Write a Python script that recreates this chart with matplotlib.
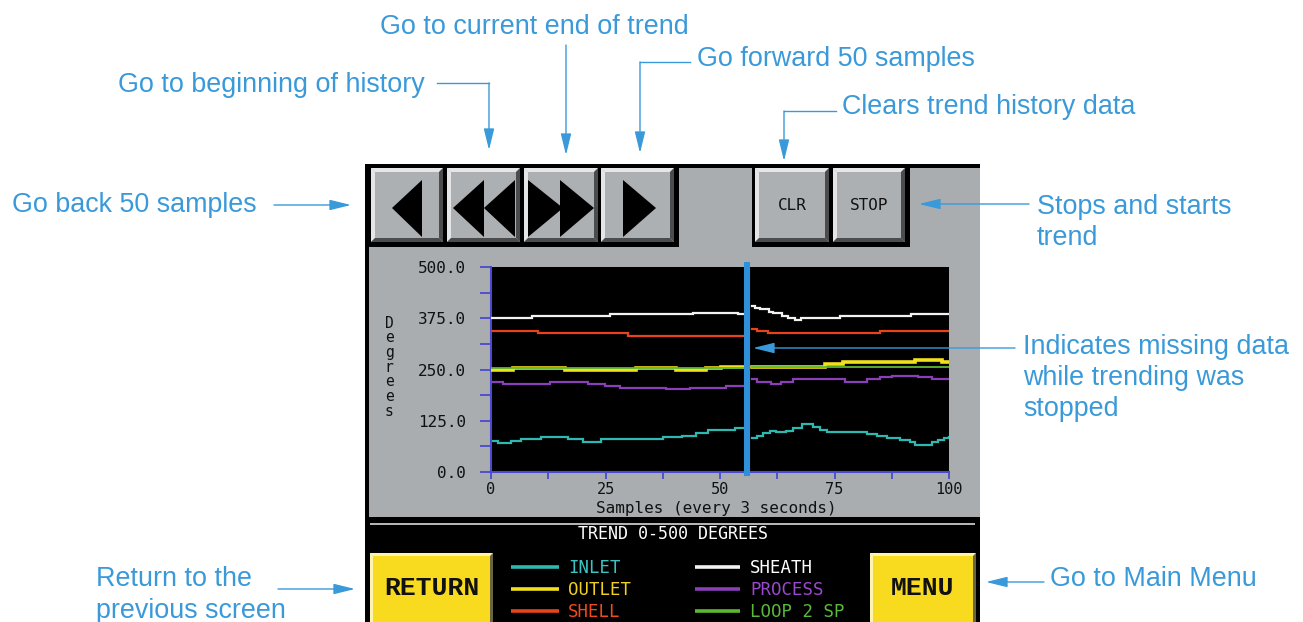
import matplotlib
matplotlib.use("Agg")
import matplotlib.pyplot as plt
from matplotlib.patches import Rectangle, Polygon, FancyArrowPatch
from matplotlib.ticker import MultipleLocator

W, H = 1303, 622

# ---------------- data ----------------
SERIES_NAMES = ["INLET", "OUTLET", "SHELL", "SHEATH", "PROCESS", "LOOP 2 SP"]
LINE_COLORS = ["#2fb8b0", "#f2e01c", "#e8431c", "#f2f2f2", "#8a3eb8", "#5cb830"]
LEGEND_TEXT_COLORS = ["#3cc4c4", "#f0d020", "#f04a1e", "#ffffff", "#9a48cc", "#5ab83a"]

# None marks the gap while trending was stopped
inlet_x = [0, 1.5, 4.4, 6.6, 10.9, 16.8, 20.1, 24.1, 37.6, 41.6, 44.8, 47.4, 53.2, 55.5, None,
           57, 58, 59.4, 60.9, 62.3, 64.5, 65.9, 67.8, 70.3, 71.8, 73.3, 80.6, 82, 84.2, 86.4,
           89.3, 91.5, 92.6, 94.8, 96.2, 97.7, 98.8, 100]
inlet_y = [76, 70, 76, 80, 85, 80, 74, 80, 85, 89, 94, 102, 108, 108, None,
           82, 88, 94, 101, 98, 101, 107, 117, 110, 102, 98, 98, 93, 88, 82,
           78, 72, 66, 66, 72, 78, 82, 86]

outlet_x = [0, 4.8, 16.1, 31.7, 40.5, 47, 50.3, 55.5, None,
            57, 60.1, 72.9, 76.9, 92.5, 98.4, 100]
outlet_y = [249, 253, 249, 253, 249, 253, 256, 256, None,
            255, 257, 263, 268, 273, 268, 268]

shell_x = [0, 10.2, 29.9, 55.5, None, 57, 58, 60.5, 84.9, 100]
shell_y = [343, 338, 332.5, 332.5, None, 348, 344, 340, 343, 343]

sheath_x = [0, 9, 26, 44, 54, 55.5, None,
            57, 57.7, 58.8, 60.6, 61.6, 63.5, 64.9, 66.3, 67.6, 76.2, 91.8, 100]
sheath_y = [375, 380, 385, 389, 385, 385, None,
            406, 401, 397, 391, 387, 381, 375, 370, 375, 381, 385, 385]

process_x = [0, 2.6, 12.8, 21.2, 24.8, 28.1, 38.3, 43.4, 51.4, 55.5, None,
             57, 58, 61.2, 63.4, 65.9, 77.2, 82, 84.9, 87.5, 93.3, 96.2, 100]
process_y = [220, 215, 220, 215, 210, 206, 202, 206, 210, 210, None,
             226, 220, 215, 220, 226, 220, 226, 231, 235, 231, 226, 226]

loop2sp_x = [0, 55.5, None, 57, 100]
loop2sp_y = [253, 253, None, 257, 257]

SERIES_X = [inlet_x, outlet_x, shell_x, sheath_x, process_x, loop2sp_x]
SERIES_Y = [inlet_y, outlet_y, shell_y, sheath_y, process_y, loop2sp_y]

Y_TICKS = [0, 125, 250, 375, 500]
Y_TICK_LABELS = ["0.0", "125.0", "250.0", "375.0", "500.0"]
X_TICKS = [0, 25, 50, 75, 100]
X_TICK_LABELS = ["0", "25", "50", "75", "100"]
GAP_SAMPLE = 56.0

X_LABEL = "Samples (every 3 seconds)"
Y_LABEL = "Degrees"
PANEL_TITLE = "TREND 0-500 DEGREES"

BLUE = "#3a9ad9"
MONO = "DejaVu Sans Mono"
SANS = "Liberation Sans"


def segments(xs, ys):
    segs, cx, cy = [], [], []
    for x, y in zip(xs, ys):
        if x is None:
            segs.append((cx, cy))
            cx, cy = [], []
        else:
            cx.append(x)
            cy.append(y)
    segs.append((cx, cy))
    return segs


fig = plt.figure(figsize=(W / 100, H / 100), dpi=100, facecolor="white")

# ---------------- background (HMI screen) ----------------
bg = fig.add_axes([0, 0, 1, 1], zorder=0)
bg.set_xlim(0, W)
bg.set_ylim(H, 0)
bg.axis("off")

PANEL_GRAY = "#a9adb0"
BTN_FACE = "#adb0b3"
BTN_LIGHT = "#e4e6e7"
BTN_DARK = "#4a4c4e"


def bevel(ax, x0, y0, x1, y1, face, light, dark, b=4):
    ax.add_patch(Rectangle((x0, y0), x1 - x0, y1 - y0, fc=face, ec="none"))
    ax.add_patch(Polygon([(x0, y0), (x1, y0), (x1 - b, y0 + b), (x0 + b, y0 + b)], fc=light, ec="none"))
    ax.add_patch(Polygon([(x0, y0), (x0 + b, y0 + b), (x0 + b, y1 - b), (x0, y1)], fc=light, ec="none"))
    ax.add_patch(Polygon([(x0, y1), (x0 + b, y1 - b), (x1 - b, y1 - b), (x1, y1)], fc=dark, ec="none"))
    ax.add_patch(Polygon([(x1, y0), (x1, y1), (x1 - b, y1 - b), (x1 - b, y0 + b)], fc=dark, ec="none"))


bg.add_patch(Rectangle((365, 164), 980 - 365, H - 164, fc="black", ec="none"))
bg.add_patch(Rectangle((369, 168), 980 - 369, 517 - 168, fc=PANEL_GRAY, ec="none"))
bg.add_patch(Rectangle((369, 165), 679 - 369, 247 - 165, fc="black", ec="none"))
bg.add_patch(Rectangle((752, 165), 910 - 752, 247 - 165, fc="black", ec="none"))

buttons = [(371, 443), (447, 520), (524, 598), (601, 674), (755, 829), (833, 905)]
for bx0, bx1 in buttons:
    bevel(bg, bx0, 168, bx1, 242, BTN_FACE, BTN_LIGHT, BTN_DARK, b=4)

tris = [
    [(392, 208), (422, 180), (422, 237)],
    [(453, 208), (484, 180), (484, 237)],
    [(484, 208), (515, 180), (515, 237)],
    [(563, 208), (528, 180), (528, 237)],
    [(594, 208), (560, 180), (560, 237)],
    [(656, 208), (623, 180), (623, 237)],
]
for t in tris:
    bg.add_patch(Polygon(t, fc="black", ec="none"))

bg.text(792, 206, "CLR", ha="center", va="center", fontsize=11.5, family=MONO, color="#111111")
bg.text(869, 206, "STOP", ha="center", va="center", fontsize=11.5, family=MONO, color="#111111")

# bottom black band
bg.plot([370, 975], [524, 524], color="#d8d8d8", lw=1.2, solid_capstyle="butt")
bg.text(673, 534, PANEL_TITLE, ha="center", va="center", fontsize=12, family=MONO, color="white")

YEL = "#f8da1e"
bevel(bg, 370, 553, 493, 630, YEL, "#fdf3b0", "#6a6440", b=3)
bevel(bg, 870, 553, 976, 630, YEL, "#fdf3b0", "#6a6440", b=3)
bg.text(432, 588, "RETURN", ha="center", va="center", fontsize=19, family="Liberation Mono",
        weight="bold", color="#111111")
bg.text(923, 588, "MENU", ha="center", va="center", fontsize=19, family="Liberation Mono",
        weight="bold", color="#111111")

# legend entries (UI legend)
leg_rows = [567, 589, 611]
for i, (name, lc, tc) in enumerate(zip(SERIES_NAMES, LINE_COLORS, LEGEND_TEXT_COLORS)):
    col, row = divmod(i, 3)
    y = leg_rows[row]
    if col == 0:
        lx0, lx1, tx = 511, 559, 568
    else:
        lx0, lx1, tx = 695, 740, 750
    bg.plot([lx0, lx1], [y, y], color=lc, lw=2.6, solid_capstyle="butt")
    bg.text(tx, y + 1, name, ha="left", va="center", fontsize=12.5, family=MONO, color=tc)

# ---------------- trend chart ----------------
L, R, T, B = 491, 949, 267, 472
ax = fig.add_axes([L / W, (H - B) / H, (R - L) / W, (B - T) / H], zorder=5)
ax.set_facecolor("black")
ax.set_xlim(0, 100)
ax.set_ylim(0, 500)

order = [0, 4, 1, 5, 2, 3]
lws = [1.6, 2.6, 1.6, 1.6, 1.6, 1.3]
for k, i in enumerate(order):
    for sx, sy in segments(SERIES_X[i], SERIES_Y[i]):
        ax.plot(sx, sy, drawstyle="steps-post", color=LINE_COLORS[i], lw=lws[i],
                solid_joinstyle="miter", zorder=2 + k)

ax.axvline(GAP_SAMPLE, color="#2f8fd8", lw=4.4, zorder=20, ymin=-0.005, ymax=1.01, clip_on=False)

AXC = "#4a4ad0"
for s in ["top", "right"]:
    ax.spines[s].set_visible(False)
for s in ["left", "bottom"]:
    ax.spines[s].set_color(AXC)
    ax.spines[s].set_linewidth(1.5)

ax.set_xticks(X_TICKS)
ax.set_xticklabels(X_TICK_LABELS)
ax.set_yticks(Y_TICKS)
ax.set_yticklabels(Y_TICK_LABELS)
ax.xaxis.set_minor_locator(MultipleLocator(12.5))
ax.yaxis.set_minor_locator(MultipleLocator(62.5))
ax.tick_params(axis="x", which="both", direction="out", length=5, width=1.3, color=AXC, pad=2.5,
               labelsize=11, labelcolor="#111111")
ax.tick_params(axis="y", which="both", direction="out", length=8, width=1.3, color=AXC, pad=10,
               labelsize=11.5, labelcolor="#111111")
for lab in ax.get_xticklabels() + ax.get_yticklabels():
    lab.set_family(MONO)

ax.set_xlabel(X_LABEL, family=MONO, fontsize=11.5, color="#111111", va="center")
ax.xaxis.set_label_coords((716 - L) / (R - L), (B - 508) / (B - T))

for j, ch in enumerate(Y_LABEL):
    bg.text(389, 323 + j * 14.7, ch, ha="center", va="center", fontsize=10.5, family=MONO,
            color="#111111")

# ---------------- annotations ----------------
ov = fig.add_axes([0, 0, 1, 1], zorder=10)
ov.set_xlim(0, W)
ov.set_ylim(H, 0)
ov.axis("off")
ov.patch.set_alpha(0)


def callout(pts):
    xs = [p[0] for p in pts[:-1]]
    ys = [p[1] for p in pts[:-1]]
    if len(pts) > 2:
        ov.plot(xs, ys, color=BLUE, lw=1.0, solid_joinstyle="miter")
    a = FancyArrowPatch(pts[-2], pts[-1], arrowstyle="-|>,head_length=1.3,head_width=0.32",
                        mutation_scale=10, color=BLUE, lw=1.0, shrinkA=0, shrinkB=0)
    ov.add_patch(a)


def label(x, y, s):
    ov.text(x, y, s, ha="left", va="baseline", fontsize=19.4, family=SANS, color=BLUE)


label(380, 33.5, "Go to current end of trend")
callout([(566, 45), (566, 155)])

label(118, 92.5, "Go to beginning of history")
callout([(437, 83), (489, 83), (489, 150)])

label(697, 66.5, "Go forward 50 samples")
callout([(690, 62), (640, 62), (640, 153)])

label(842, 114, "Clears trend history data")
callout([(836, 111), (784, 111), (784, 161)])

label(1037, 214, "Stops and starts")
label(1037, 245, "trend")
callout([(1029, 204), (919, 204)])

label(12, 212.5, "Go back 50 samples")
callout([(274, 205), (351, 205)])

label(1023, 354, "Indicates missing data")
label(1023, 385, "while trending was")
label(1023, 416, "stopped")
callout([(1015, 348), (753, 348)])

label(96, 586.5, "Return to the")
label(96, 617.5, "previous screen")
callout([(278, 589), (355, 589)])

label(1050, 586.5, "Go to Main Menu")
callout([(1044, 582), (986, 582)])

fig.savefig("out.png", dpi=100, facecolor="white")
